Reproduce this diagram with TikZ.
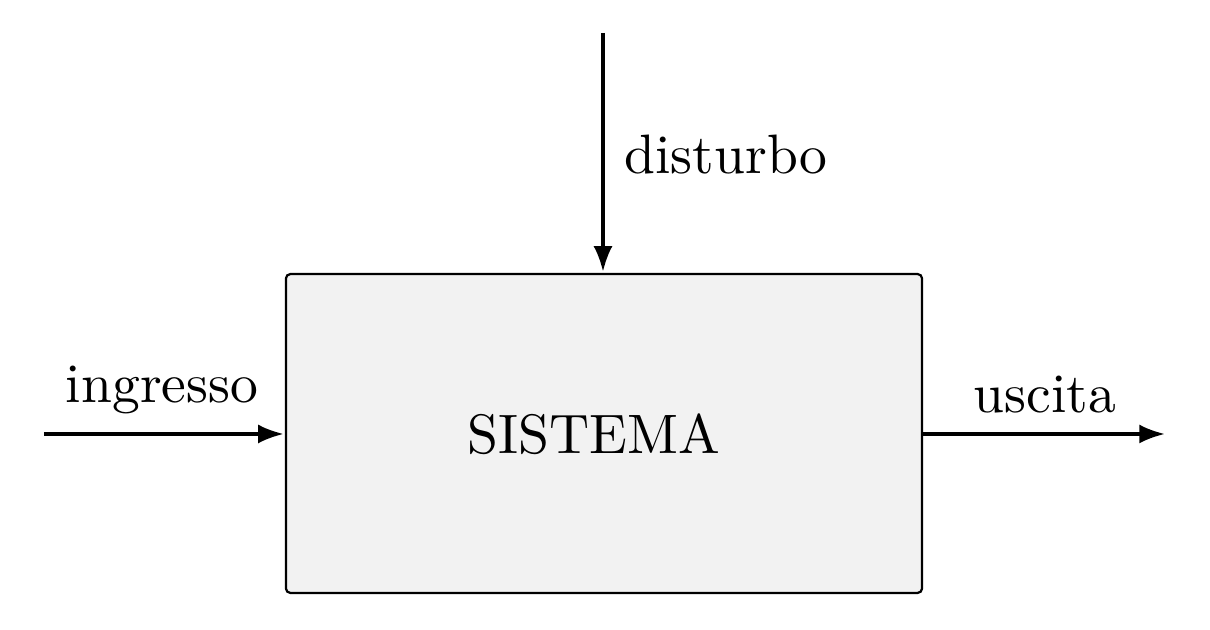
\documentclass[tikz,border=0pt]{standalone}
\usetikzlibrary{arrows.meta}
\begin{document}
\begin{tikzpicture}[x=0.18pt,y=-0.18pt,
  sysbox/.style={draw=black, line width=0.4pt, fill=black!5, rounded corners=0.8pt,
    minimum width=114.5pt, minimum height=57.4pt, inner sep=0pt, outer sep=0pt},
  sig/.style={line width=0.6pt, -{Latex[length=4.6pt,width=3.4pt]}},
  lbl/.style={anchor=base, inner sep=0pt}]
\useasboundingbox (0,0) rectangle (1210,630);
\node[sysbox] (sys) at (604,433.5) {};
\node[lbl] (systxt) at (594,454) {SISTEMA};
\coordinate (in) at (44,434);
\coordinate (out) at (1165,434);
\coordinate (dist) at (603,33);
\coordinate (sysin) at (286,434);
\coordinate (sysout) at (922,434);
\coordinate (systop) at (603,274);
\draw[sig, shorten >=0.4pt] (in) -- (sysin);
\draw[sig] (sysout) -- (out);
\draw[sig, shorten >=0.4pt] (dist) -- (systop);
\node[lbl] (lin) at (162,403) {ingresso};
\node[lbl] (lout) at (1045,413) {uscita};
\node[lbl] (ldist) at (726,174) {disturbo};
\end{tikzpicture}
\end{document}
